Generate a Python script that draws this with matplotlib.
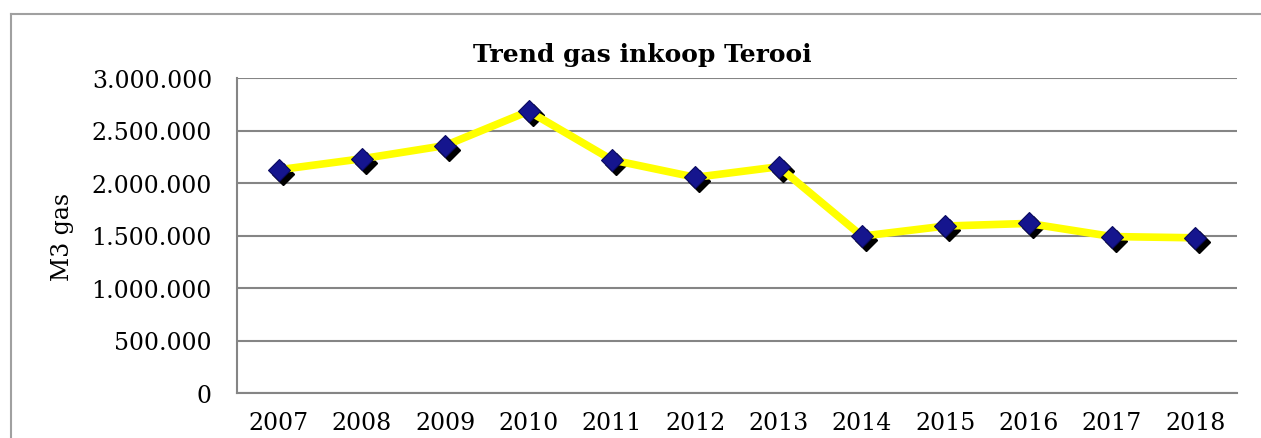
import numpy as np
import matplotlib
matplotlib.use('Agg')
import matplotlib.pyplot as plt
from matplotlib.ticker import FuncFormatter
from matplotlib.transforms import offset_copy
from matplotlib.lines import Line2D

matplotlib.rcParams['font.family'] = ['DejaVu Serif']

jaren = ['2007', '2008', '2009', '2010', '2011', '2012',
         '2013', '2014', '2015', '2016', '2017', '2018']
gas_m3 = [2126000, 2231000, 2357000, 2684000, 2220000, 2054000,
          2155000, 1494000, 1590000, 1615000, 1490000, 1478000]
y_ticks = [0, 500000, 1000000, 1500000, 2000000, 2500000, 3000000]

fig = plt.figure(figsize=(12.61, 4.39), dpi=100)
ax = fig.add_axes([237/1261, 45/439, 1000/1261, 315/439])

x = np.arange(len(jaren))
grijs = '#858585'

# schaduw onder de markers
schaduw = offset_copy(ax.transData, fig=fig, x=4, y=-4, units='dots')
ax.plot(x, gas_m3, linestyle='none', marker='D', markersize=11,
        color='black', transform=schaduw, zorder=3)
ax.plot(x, gas_m3, color='#ffff00', linewidth=5.5, zorder=4,
        solid_joinstyle='miter')
ax.plot(x, gas_m3, linestyle='none', marker='D', markersize=11,
        markerfacecolor='#15158e', markeredgecolor='#0a0a60',
        markeredgewidth=0.8, zorder=5)

ax.set_xlim(-0.5, len(jaren) - 0.5)
ax.set_ylim(0, 3000000)
ax.set_yticks(y_ticks)
ax.yaxis.set_major_formatter(FuncFormatter(lambda v, p: f'{int(v):,}'.replace(',', '.')))
ax.set_xticks(x)
ax.set_xticklabels(jaren)
ax.tick_params(axis='both', length=0, labelsize=17)
ax.tick_params(axis='y', pad=18)
ax.tick_params(axis='x', pad=13)

ax.grid(axis='y', color=grijs, linewidth=1.5)
ax.set_axisbelow(True)
for s in ['top', 'right']:
    ax.spines[s].set_visible(False)
ax.spines['left'].set_color(grijs)
ax.spines['left'].set_linewidth(1.5)
ax.spines['bottom'].set_color(grijs)
ax.spines['bottom'].set_linewidth(1.5)

fig.text(642/1261, 1 - 55/439, 'Trend gas inkoop Terooi', ha='center', va='center',
         fontsize=18, fontweight='bold')
fig.text(63/1261, 1 - 237/439, 'M3 gas', rotation=90, ha='center', va='center',
         fontsize=17)

# buitenkader
fig.add_artist(Line2D([11/1261, 1.01], [1 - 15/439, 1 - 15/439], color='#a0a0a0',
                      linewidth=1.5, transform=fig.transFigure))
fig.add_artist(Line2D([11/1261, 11/1261], [-0.01, 1 - 15/439], color='#a0a0a0',
                      linewidth=1.5, transform=fig.transFigure))

plt.savefig('out.png', dpi=100)
